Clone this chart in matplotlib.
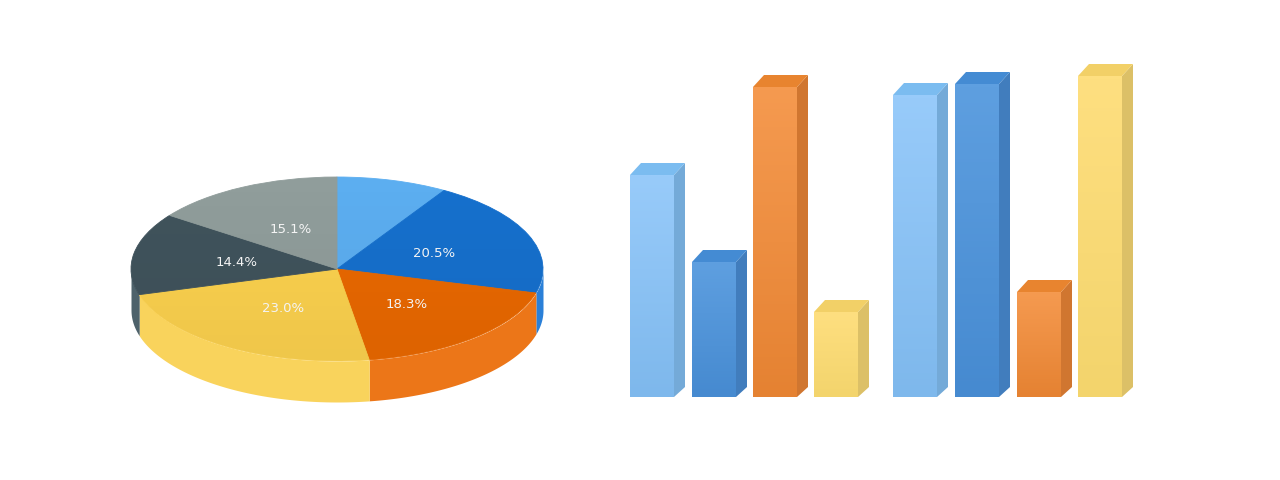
import numpy as np
import matplotlib
matplotlib.use('Agg')
import matplotlib.pyplot as plt
from matplotlib.colors import LinearSegmentedColormap
from matplotlib.patches import Ellipse

# pie data
pie_values = [8.7, 20.5, 18.3, 23.0, 14.4, 15.1]
pie_colors = ['#5caef0', '#1670cd', '#e96800', '#fbd14e', '#40535c', '#909d9b']
rim_colors = ['#5caef0', '#2a80d8', '#ec7618', '#f9d35c', '#4e626b', '#909d9b']

# bar data
bar_values = [222, 135, 310, 85, 302, 313, 105, 321]
bar_series = [0, 1, 2, 3, 0, 1, 2, 3]

front_top = ['#98cbfa', '#5e9fe0', '#f59a50', '#fedf80']
front_bottom = ['#7eb8ec', '#468ad0', '#e58232', '#f3d46c']
top_colors = ['#7bbcf0', '#448bd3', '#e8842f', '#f2d067']
side_colors = ['#74aad8', '#417dbd', '#d07630', '#dcc067']

fig = plt.figure(figsize=(12.8, 4.8), dpi=100)

# pie, squashed into an ellipse
ax = fig.add_axes([131 / 1280, (480 - 361) / 480, 412 / 1280, 184 / 480])
depth = 41 / 92

start = 0
for value, color in zip(pie_values, rim_colors):
    end = start + value * 3.6
    lo, hi = max(start, 90), min(end, 270)
    if lo < hi:
        t = np.radians(np.linspace(lo, hi, 80))
        ax.fill_between(np.sin(t), np.cos(t), np.cos(t) - depth, color=color,
                        lw=0, clip_on=False)
    start = end


def pct(p):
    return '' if p < 10 else '%.1f%%' % p


wedges, texts, autotexts = ax.pie(pie_values, colors=pie_colors, startangle=90,
                                  counterclock=False, autopct=pct,
                                  pctdistance=0.5, radius=1)
for w in wedges:
    w.set_clip_on(False)
    w.set_edgecolor(w.get_facecolor())
    w.set_linewidth(0.6)
for t in autotexts:
    t.set_color('#f4f4f4')
    t.set_fontsize(9.5)
    t.set_zorder(5)
    x, y = t.get_position()
    t.set_position((x + 0.005, y - 0.012))
ax.set_aspect('auto')
ax.set_xlim(-1, 1)
ax.set_ylim(-1, 1)

# slight shading on the lower part of the top face
shade = LinearSegmentedColormap.from_list('shade', [(0, 0, 0, 0.05), (0, 0, 0, 0)])
im = ax.imshow(np.linspace(0, 1, 100).reshape(-1, 1), cmap=shade, extent=(-1, 1, -1, 1),
               origin='lower', aspect='auto', zorder=3)
clip = Ellipse((0, 0), 2, 2, transform=ax.transData)
im.set_clip_path(clip)

# bars, one pixel per unit
bx = fig.add_axes([0, 0, 1, 1])
bx.patch.set_alpha(0)
bx.axis('off')

bar_x = [652, 714, 775, 836, 915, 977, 1039, 1100]
bar_w = 44
dx, dy = 11, 12

bars = bx.bar(bar_x, bar_values, width=bar_w, color='none', lw=0, zorder=2)
for rect, h, s in zip(bars, bar_values, bar_series):
    x0 = rect.get_x()
    x1 = x0 + bar_w
    bx.fill([x1, x1 + dx, x1 + dx, x1], [0, dy - 2, h + dy, h], color=side_colors[s], lw=0, zorder=1)
    bx.fill([x0, x0 + dx, x1 + dx, x1], [h, h + dy, h + dy, h], color=top_colors[s], lw=0, zorder=1)
    cmap = LinearSegmentedColormap.from_list('front', [front_bottom[s], front_top[s]])
    g = bx.imshow(np.linspace(0, 1, 100).reshape(-1, 1), cmap=cmap, extent=(x0, x1, 0, h),
                  origin='lower', aspect='auto', zorder=2)
    g.set_clip_path(rect)

bx.set_xlim(0, 1280)
bx.set_ylim(-83, 397)

fig.savefig('out.png', dpi=100, facecolor='white')
